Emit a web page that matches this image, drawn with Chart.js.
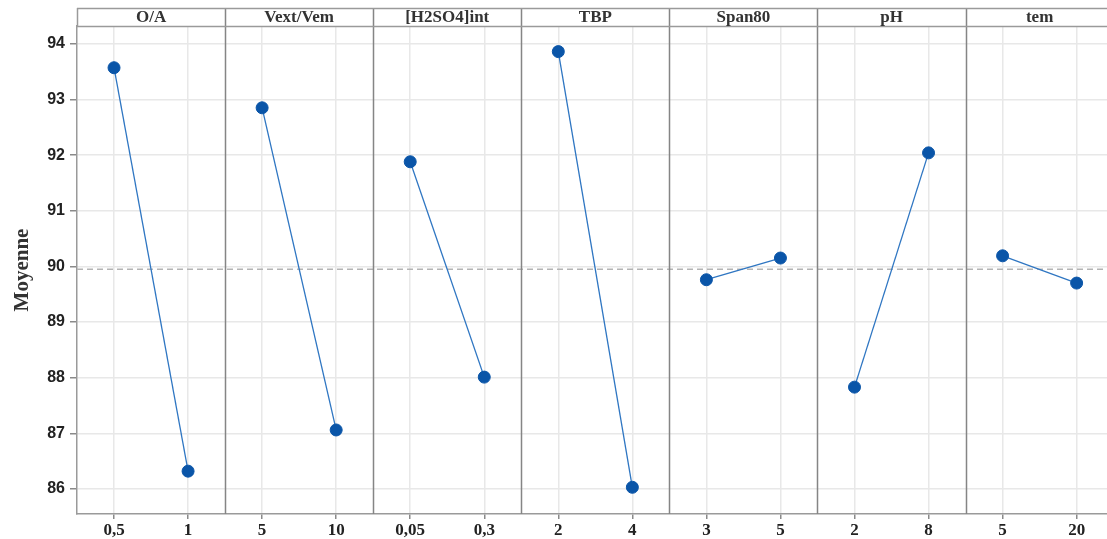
<!DOCTYPE html>
<html>
<head>
<meta charset="utf-8">
<script src="https://cdn.jsdelivr.net/npm/chart.js@4/dist/chart.umd.min.js"></script>
<style>
  html, body { margin: 0; padding: 0; background: #fff; overflow: hidden; }
  #wrap { width: 1107px; height: 539px; position: relative; }
  canvas { display: block; }
</style>
</head>
<body>
<div id="wrap"><canvas id="chart"></canvas></div>
<script>
// factors, their two levels and the mean response at each level
const factors = ['O/A', 'Vext/Vem', '[H2SO4]int', 'TBP', 'Span80', 'pH', 'tem'];
const levelLabels = [['0,5', '1'], ['5', '10'], ['0,05', '0,3'], ['2', '4'], ['3', '5'], ['2', '8'], ['5', '20']];
const lowMeans = [93.57, 92.85, 91.88, 93.86, 89.76, 87.83, 90.19];
const highMeans = [86.32, 87.06, 88.01, 86.03, 90.15, 92.04, 89.70];
const yTicks = [86, 87, 88, 89, 90, 91, 92, 93, 94];

const grandMean = (lowMeans.reduce((a, b) => a + b, 0) + highMeans.reduce((a, b) => a + b, 0)) / (2 * factors.length);

const tickPos = [];
const tickText = {};
factors.forEach((f, i) => {
    tickPos.push(i + 0.25, i + 0.75);
    tickText[(i + 0.25).toFixed(2)] = levelLabels[i][0];
    tickText[(i + 0.75).toFixed(2)] = levelLabels[i][1];
});

const datasets = factors.map((f, i) => ({
    label: f,
    data: [{ x: i + 0.25, y: lowMeans[i] }, { x: i + 0.75, y: highMeans[i] }],
    borderColor: '#2f76c2',
    borderWidth: 1.3,
    backgroundColor: '#0a55a8',
    pointBackgroundColor: '#0a55a8',
    pointBorderColor: '#0a55a8',
    pointRadius: 6,
    pointBorderWidth: 1,
    showLine: true,
    order: 1
}));

datasets.push({
    label: 'mean',
    data: [{ x: 0, y: grandMean }, { x: factors.length, y: grandMean }],
    borderColor: '#b4b4b4',
    borderWidth: 1.5,
    borderDash: [6, 4],
    pointRadius: 0,
    showLine: true,
    order: 2
});

const HEADER_H = 18;

// panel dividers and the header strip with factor names
const panels = {
    id: 'panels',
    afterDatasetsDraw(chart) {
        const { ctx, chartArea, scales: { x } } = chart;
        const top = chartArea.top - HEADER_H;
        ctx.save();
        ctx.strokeStyle = '#858585';
        ctx.lineWidth = 1.5;
        for (let i = 1; i < factors.length; i++) {
            const px = Math.round(x.getPixelForValue(i)) + 0.5;
            ctx.beginPath();
            ctx.moveTo(px, top);
            ctx.lineTo(px, chartArea.bottom);
            ctx.stroke();
        }
        // header box
        ctx.strokeStyle = '#9a9a9a';
        ctx.beginPath();
        ctx.moveTo(chartArea.left, top + 0.5);
        ctx.lineTo(chartArea.right, top + 0.5);
        ctx.moveTo(chartArea.left, chartArea.top + 0.5);
        ctx.lineTo(chartArea.right, chartArea.top + 0.5);
        ctx.moveTo(chartArea.left + 0.5, top);
        ctx.lineTo(chartArea.left + 0.5, chartArea.top);
        ctx.stroke();

        ctx.fillStyle = '#333';
        ctx.font = 'bold 17px "Liberation Serif", "Times New Roman", serif';
        ctx.textAlign = 'center';
        ctx.textBaseline = 'middle';
        factors.forEach((f, i) => {
            const cx = x.getPixelForValue(i + 0.5);
            ctx.fillText(f, cx, top + HEADER_H / 2 + 1);
        });
        ctx.restore();
    }
};

new Chart(document.getElementById('chart'), {
    type: 'scatter',
    data: { datasets },
    options: {
        responsive: true,
        maintainAspectRatio: false,
        animation: false,
        layout: { autoPadding: false, padding: { top: 26, right: 0, bottom: 0, left: 0 } },
        plugins: {
            legend: { display: false },
            tooltip: { enabled: false }
        },
        scales: {
            x: {
                type: 'linear',
                min: 0,
                max: 6.955,
                afterBuildTicks(scale) {
                    scale.ticks = tickPos.map(v => ({ value: v }));
                },
                afterFit(scale) { scale.height = 25; },
                ticks: {
                    autoSkip: false,
                    maxRotation: 0,
                    padding: 1,
                    color: '#222',
                    font: { family: '"Liberation Serif", "Times New Roman", serif', size: 17, weight: 'bold' },
                    callback: (v) => tickText[Number(v).toFixed(2)] || ''
                },
                grid: {
                    color: '#e8e8e8',
                    lineWidth: 1.5,
                    tickColor: '#8a8a8a',
                    tickLength: 5,
                    drawTicks: true
                },
                border: { color: '#9a9a9a', width: 1.5 }
            },
            y: {
                min: 85.55,
                max: 94.32,
                afterBuildTicks(scale) {
                    scale.ticks = yTicks.map(v => ({ value: v }));
                },
                afterFit(scale) { scale.width = 77; },
                ticks: {
                    includeBounds: false,
                    padding: 5,
                    color: '#222',
                    font: { family: '"Liberation Sans", Arial, sans-serif', size: 16, weight: 'bold' }
                },
                grid: {
                    color: '#e8e8e8',
                    lineWidth: 1.5,
                    tickColor: '#8a8a8a',
                    tickLength: 7
                },
                border: { color: '#9a9a9a', width: 1.5 },
                title: {
                    display: true,
                    text: 'Moyenne',
                    color: '#333',
                    padding: { top: 10, bottom: 0 },
                    font: { family: '"Liberation Serif", "Times New Roman", serif', size: 21, weight: 'bold' }
                }
            }
        }
    },
    plugins: [panels]
});
</script>
</body>
</html>
